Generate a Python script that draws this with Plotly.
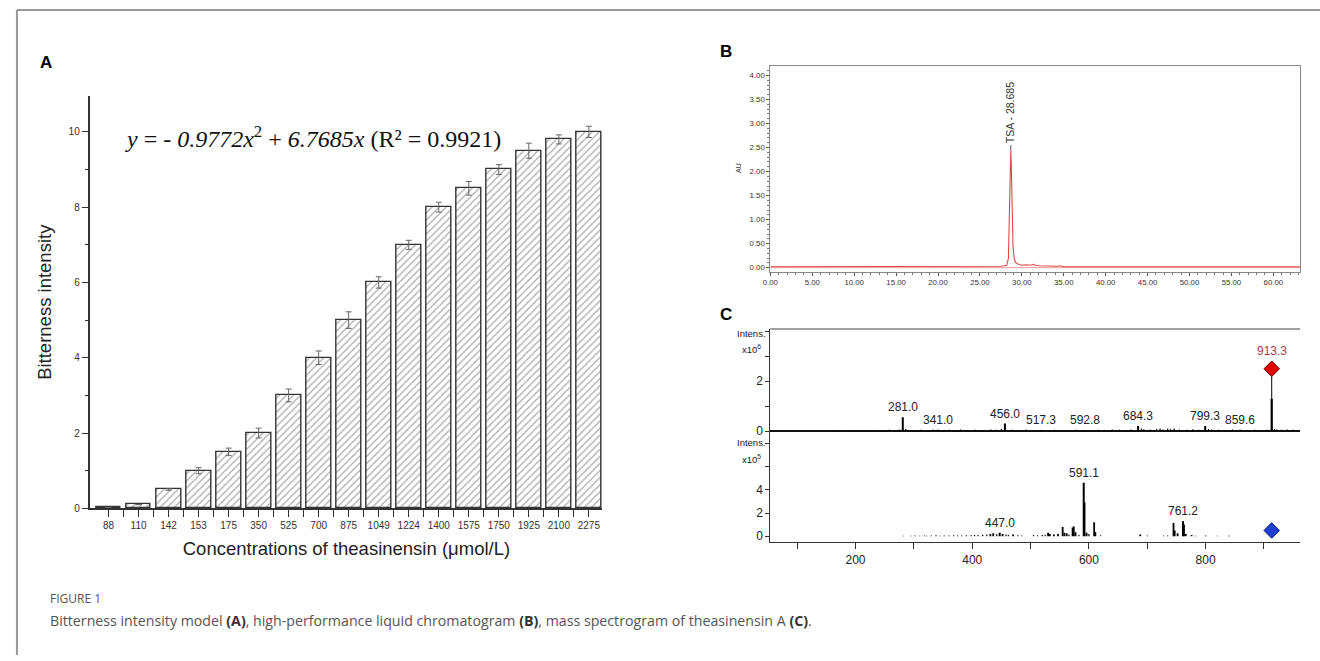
import plotly.graph_objects as go

W, H = 1320, 661


def px(x):
    return x / W


def py(y):
    return 1 - y / H


# ---------------- Panel A data ----------------
concentrations = ["88", "110", "142", "153", "175", "350", "525", "700", "875", "1049",
                  "1224", "1400", "1575", "1750", "1925", "2100", "2275"]
bitterness = [0.02, 0.1, 0.5, 1.0, 1.5, 2.0, 3.0, 4.0, 5.0, 6.0, 7.0, 8.0, 8.5, 9.0, 9.5, 9.8, 10.0]
bitterness_err = [0.0, 0.0, 0.02, 0.08, 0.1, 0.13, 0.17, 0.18, 0.22, 0.15, 0.12, 0.13, 0.18, 0.13, 0.2, 0.12, 0.15]

# ---------------- Panel B data (HPLC) ----------------
hplc_time = [0, 3, 3.5, 4, 10, 20, 24, 24.5, 25, 27, 27.5, 27.9, 28.2, 28.4, 28.5, 28.6, 28.685,
             28.75, 28.85, 28.95, 29.1, 29.3, 29.6, 30.0, 30.5, 31.0, 31.4, 31.6, 32.0, 33.0,
             34.3, 34.6, 35.0, 40, 50, 55, 63.5]
hplc_au = [0.02, 0.02, 0.025, 0.02, 0.02, 0.02, 0.02, 0.03, 0.02, 0.02, 0.03, 0.04, 0.05, 0.2,
           0.9, 2.0, 2.45, 2.1, 1.1, 0.45, 0.18, 0.1, 0.07, 0.05, 0.06, 0.05, 0.07, 0.05, 0.04,
           0.03, 0.03, 0.04, 0.02, 0.02, 0.02, 0.02, 0.02]
hplc_base_time = [0, 63.5]
hplc_base_au = [0.0, 0.0]
peak_name = "TSA - 28.685"
peak_time = 28.685
peak_au = 2.45

# ---------------- Panel C data (MS) ----------------
ms1_label_mz = [281.0, 341.0, 456.0, 517.3, 592.8, 684.3, 799.3, 859.6]
ms1_label_int = [0.55, 0.05, 0.3, 0.04, 0.04, 0.2, 0.2, 0.05]
ms1_noise_mz = [162, 190, 212, 228, 236, 249, 258, 266, 275, 286, 300, 312, 325, 333, 352, 361,
                372, 380, 392, 405, 418, 432, 441, 450, 468, 480, 492, 505, 530, 541, 553, 566,
                578, 603, 615, 627, 640, 652, 665, 672, 690, 694, 705, 716, 722, 727, 735, 740,
                746, 755, 768, 778, 788, 805, 810, 822, 834, 846, 871, 884, 896, 905, 918, 922,
                930, 940, 950]
ms1_noise_int = [0.02, 0.03, 0.02, 0.03, 0.04, 0.03, 0.05, 0.03, 0.06, 0.08, 0.04, 0.05, 0.03,
                 0.06, 0.04, 0.05, 0.03, 0.06, 0.04, 0.05, 0.04, 0.06, 0.05, 0.08, 0.05, 0.04,
                 0.06, 0.03, 0.04, 0.05, 0.04, 0.03, 0.05, 0.04, 0.05, 0.04, 0.06, 0.05, 0.04,
                 0.06, 0.1, 0.07, 0.06, 0.08, 0.1, 0.06, 0.09, 0.07, 0.1, 0.06, 0.05, 0.07, 0.05,
                 0.08, 0.06, 0.05, 0.04, 0.06, 0.04, 0.05, 0.04, 0.05, 0.08, 0.06, 0.05, 0.06, 0.05]
ms1_precursor_mz = 913.3
ms1_precursor_int = 1.3
ms1_precursor_marker = 2.5

ms2_label_mz = [447.0, 591.1, 761.2]
ms2_label_int = [0.3, 4.6, 1.3]
ms2_peak_mz = [431, 436, 452, 470, 530, 533, 540, 547, 555, 558, 562, 572, 574, 577, 592.5,
               596, 609, 611, 688, 745, 747, 752, 763, 766, 776, 800, 840]
ms2_peak_int = [0.2, 0.25, 0.2, 0.15, 0.3, 0.2, 0.15, 0.2, 0.8, 0.3, 0.25, 0.75, 0.85, 0.35, 2.9,
                0.3, 1.2, 0.35, 0.15, 1.15, 0.5, 0.25, 1.0, 0.2, 0.1, 0.05, 0.05]
ms2_noise_mz = [282, 295, 302, 310, 318, 322, 330, 338, 345, 352, 360, 368, 375, 382, 390,
                398, 404, 410, 418, 425, 442, 458, 462, 478, 485, 505, 512, 520, 525, 566,
                583, 600, 620, 700, 728, 735, 782, 820]
ms2_noise_int = [0.05, 0.04, 0.06, 0.05, 0.07, 0.05, 0.06, 0.08, 0.05, 0.07, 0.06, 0.08, 0.07,
                 0.06, 0.08, 0.09, 0.1, 0.1, 0.12, 0.14, 0.18, 0.15, 0.1, 0.08, 0.06, 0.1, 0.08,
                 0.1, 0.12, 0.15, 0.1, 0.2, 0.08, 0.06, 0.05, 0.06, 0.05, 0.05]
ms2_precursor_marker = 0.5


def sticks(mz, inten):
    xs, ys = [], []
    for m, h in zip(mz, inten):
        xs += [m, m, None]
        ys += [0, h, None]
    return xs, ys


fig = go.Figure()

# ---- Panel A: bars ----
xpos = list(range(len(concentrations)))
fig.add_trace(go.Bar(
    x=xpos, y=bitterness, width=0.83,
    marker=dict(color="white", line=dict(color="#333", width=1.4),
                pattern=dict(shape="/", fgcolor="#555", bgcolor="white", size=5, solidity=0.25)),
    error_y=dict(type="data", array=bitterness_err, visible=True, color="#666", thickness=1, width=3),
    xaxis="x", yaxis="y", showlegend=False))

# ---- Panel B: chromatogram ----
fig.add_trace(go.Scatter(x=hplc_base_time, y=hplc_base_au, mode="lines",
                         line=dict(color="#f08080", width=0.8), xaxis="x2", yaxis="y2", showlegend=False))
fig.add_trace(go.Scatter(x=hplc_time, y=hplc_au, mode="lines",
                         line=dict(color="#e04848", width=1.1), xaxis="x2", yaxis="y2", showlegend=False))
fig.add_trace(go.Scatter(x=[peak_time, peak_time], y=[peak_au, peak_au + 0.1], mode="lines",
                         line=dict(color="#555", width=1), xaxis="x2", yaxis="y2", showlegend=False))

# ---- Panel C top: MS ----
xs, ys = sticks(ms1_noise_mz, ms1_noise_int)
fig.add_trace(go.Scatter(x=xs, y=ys, mode="lines", line=dict(color="black", width=1.2),
                         xaxis="x3", yaxis="y3", showlegend=False))
xs, ys = sticks(ms1_label_mz, ms1_label_int)
fig.add_trace(go.Scatter(x=xs, y=ys, mode="lines", line=dict(color="black", width=2),
                         xaxis="x3", yaxis="y3", showlegend=False))
xs, ys = sticks([ms1_precursor_mz], [ms1_precursor_marker])
fig.add_trace(go.Scatter(x=xs, y=ys, mode="lines", line=dict(color="black", width=1),
                         xaxis="x3", yaxis="y3", showlegend=False))
xs, ys = sticks([ms1_precursor_mz], [ms1_precursor_int])
fig.add_trace(go.Scatter(x=xs, y=ys, mode="lines", line=dict(color="black", width=2.2),
                         xaxis="x3", yaxis="y3", showlegend=False))
fig.add_trace(go.Scatter(x=[ms1_precursor_mz], y=[ms1_precursor_marker], mode="markers",
                         marker=dict(symbol="diamond", size=12, color="#e00000", line=dict(color="#600", width=1)),
                         xaxis="x3", yaxis="y3", showlegend=False))

# ---- Panel C bottom: MS/MS ----
xs, ys = sticks(ms2_noise_mz, ms2_noise_int)
fig.add_trace(go.Scatter(x=xs, y=ys, mode="lines", line=dict(color="black", width=1.2),
                         xaxis="x4", yaxis="y4", showlegend=False))
xs, ys = sticks(ms2_peak_mz, ms2_peak_int)
fig.add_trace(go.Scatter(x=xs, y=ys, mode="lines", line=dict(color="black", width=1.8),
                         xaxis="x4", yaxis="y4", showlegend=False))
xs, ys = sticks(ms2_label_mz, ms2_label_int)
fig.add_trace(go.Scatter(x=xs, y=ys, mode="lines", line=dict(color="black", width=2),
                         xaxis="x4", yaxis="y4", showlegend=False))
fig.add_trace(go.Scatter(x=[ms1_precursor_mz], y=[ms2_precursor_marker], mode="markers",
                         marker=dict(symbol="diamond", size=12, color="#1f3fd0", line=dict(color="#102080", width=1)),
                         xaxis="x4", yaxis="y4", showlegend=False))

annotations = []
# panel letters
for letter, x, y in [("A", 38, 63), ("B", 722, 52), ("C", 722, 317)]:
    annotations.append(dict(text="<b>%s</b>" % letter, x=px(x), y=py(y), xref="paper", yref="paper",
                            xanchor="center", yanchor="middle", showarrow=False,
                            font=dict(family="Liberation Sans, Arial", size=17, color="black")))

# equation
annotations.append(dict(
    text="<i>y</i> = - <i>0.9772x</i><sup>2</sup> + <i>6.7685x</i> (R² = 0.9921)",
    x=px(116), y=py(138), xref="paper", yref="paper", xanchor="left", yanchor="middle",
    showarrow=False, font=dict(family="Liberation Serif, Times New Roman", size=24, color="#111")))

# HPLC peak label
annotations.append(dict(text=peak_name, x=peak_time, y=peak_au, xref="x2", yref="y2",
                        xanchor="center", yanchor="bottom", yshift=5, textangle=-90, showarrow=False,
                        font=dict(family="Liberation Sans, Arial", size=10.5, color="#333")))
annotations.append(dict(text="AU", x=px(735), y=py(170), xref="paper", yref="paper",
                        xanchor="center", yanchor="middle", textangle=-90, showarrow=False,
                        font=dict(family="Liberation Sans, Arial", size=7, color="#333")))

lab_font = "Liberation Sans, Arial"
for m, h in zip(ms1_label_mz, ms1_label_int):
    annotations.append(dict(text="%.1f" % m, x=m, y=h, xref="x3", yref="y3", xanchor="center",
                            yanchor="bottom", yshift=1, showarrow=False,
                            font=dict(family=lab_font, size=12, color="#222")))
annotations.append(dict(text="%.1f" % ms1_precursor_mz, x=ms1_precursor_mz, y=ms1_precursor_marker,
                        xref="x3", yref="y3", xanchor="center", yanchor="bottom", yshift=9,
                        showarrow=False, font=dict(family=lab_font, size=12, color="#b0403a")))
for m, h in zip(ms2_label_mz, ms2_label_int):
    annotations.append(dict(text="%.1f" % m, x=m, y=h, xref="x4", yref="y4", xanchor="center",
                            yanchor="bottom", yshift=1, showarrow=False,
                            font=dict(family=lab_font, size=12, color="#222")))
for txt, x, y in [("Intens.", 748, 337), ("x10<sup>6</sup>", 748, 352),
                  ("Intens.", 748, 447), ("x10<sup>5</sup>", 748, 463)]:
    annotations.append(dict(text=txt, x=px(x), y=py(y), xref="paper", yref="paper",
                            xanchor="center", yanchor="middle", showarrow=False,
                            font=dict(family=lab_font, size=9.5, color="#222")))

# caption
annotations.append(dict(text="FIGURE 1", x=px(40), y=py(604), xref="paper", yref="paper",
                        xanchor="left", yanchor="middle", showarrow=False,
                        font=dict(family="Open Sans", size=12, color="#555")))
annotations.append(dict(
    text="Bitterness intensity model <b style='color:#333'>(A)</b>, high-performance liquid chromatogram "
         "<b style='color:#333'>(B)</b>, mass spectrogram of theasinensin A <b style='color:#333'>(C)</b>.",
    x=px(40), y=py(626), xref="paper", yref="paper", xanchor="left", yanchor="middle",
    showarrow=False, font=dict(family="Open Sans", size=14.2, color="#555")))

shapes = [
    dict(type="line", xref="paper", yref="paper", x0=px(9), x1=1.0, y0=py(10), y1=py(10),
         line=dict(color="#999", width=2)),
    dict(type="line", xref="paper", yref="paper", x0=px(9), x1=px(9), y0=py(10), y1=0,
         line=dict(color="#999", width=2)),
    dict(type="line", xref="paper", yref="paper", x0=px(767), x1=px(1300), y0=py(332), y1=py(332),
         line=dict(color="#444", width=1.2)),
]

ax_font = dict(family="Liberation Sans, Arial", size=10, color="#333")
c_font = dict(family=lab_font, size=12, color="#222")

fig.update_layout(
    width=W, height=H, margin=dict(l=0, r=0, t=0, b=0),
    paper_bgcolor="white", plot_bgcolor="rgba(0,0,0,0)",
    annotations=annotations, shapes=shapes, bargap=0,
    xaxis=dict(domain=[px(83), px(598)], anchor="y", range=[-0.6, 16.45],
               tickvals=xpos, ticktext=concentrations, ticks="outside", ticklen=7, tickcolor="#333",
               minor=dict(tickvals=[i + 0.5 for i in xpos[:-1]], ticks="outside", ticklen=7, tickcolor="#333"),
               showline=True, linecolor="#333", linewidth=1.5, showgrid=False, zeroline=False,
               tickfont=ax_font,
               title=dict(text="Concentrations of theasinensin (μmol/L)", standoff=12,
                          font=dict(family="Liberation Sans, Arial", size=18.5, color="#222"))),
    yaxis=dict(domain=[py(513), py(97)], anchor="x", range=[0, 10.95],
               tickvals=[0, 2, 4, 6, 8, 10], ticks="outside", ticklen=7, tickcolor="#333",
               minor=dict(tickvals=[1, 3, 5, 7, 9], ticks="outside", ticklen=4, tickcolor="#333"),
               showline=True, linecolor="#333", linewidth=1.5, showgrid=False, zeroline=False,
               tickfont=ax_font,
               title=dict(text="Bitterness intensity", standoff=12,
                          font=dict(family="Liberation Sans, Arial", size=18.5, color="#222"))),
    xaxis2=dict(domain=[px(767), px(1300)], anchor="y2", range=[0, 63.2],
                dtick=5, tick0=0, tickformat=".2f", ticks="outside", ticklen=3, tickcolor="#555",
                minor=dict(dtick=1, ticks="outside", ticklen=2, tickcolor="#777"),
                showline=True, mirror=True, linecolor="#888", linewidth=1, showgrid=False,
                zeroline=False, tickfont=dict(family="Liberation Sans, Arial", size=7.8, color="#333")),
    yaxis2=dict(domain=[py(274), py(67)], anchor="x2", range=[-0.08, 4.19],
                dtick=0.5, tick0=0, tickformat=".2f", ticks="outside", ticklen=3, tickcolor="#555",
                minor=dict(dtick=0.1, ticks="outside", ticklen=2, tickcolor="#777"),
                showline=True, mirror=True, linecolor="#888", linewidth=1, showgrid=False,
                zeroline=False, tickfont=dict(family="Liberation Sans, Arial", size=7.8, color="#333")),
    xaxis3=dict(domain=[px(767), px(1300)], anchor="y3", range=[54, 962], matches="x4",
                showticklabels=False, ticks="", showline=False, showgrid=False, zeroline=False),
    yaxis3=dict(domain=[py(438), py(332)], anchor="x3", range=[-0.12, 4.1],
                tickvals=[0, 2], ticks="outside", ticklen=4, tickcolor="#333",
                minor=dict(tickvals=[1, 3, 4], ticks="outside", ticklen=4, tickcolor="#333"),
                showline=True, linecolor="#333", linewidth=1.2,
                showgrid=False, zeroline=True, zerolinecolor="#111", zerolinewidth=2, tickfont=c_font),
    xaxis4=dict(domain=[px(767), px(1300)], anchor="y4", range=[54, 962],
                tickvals=[200, 400, 600, 800], ticks="outside", ticklen=6, tickcolor="#333",
                minor=dict(tickvals=[100, 300, 500, 700, 900], ticks="outside", ticklen=6, tickcolor="#333"),
                showline=True, linecolor="#333", linewidth=1.2, showgrid=False, zeroline=False,
                tickfont=c_font),
    yaxis4=dict(domain=[py(547), py(438)], anchor="x4", range=[-0.5, 8.8],
                tickvals=[0, 2, 4], ticks="outside", ticklen=4, tickcolor="#333",
                minor=dict(tickvals=[6, 8], ticks="outside", ticklen=4, tickcolor="#333"),
                showline=True, linecolor="#333", linewidth=1.2,
                showgrid=False, zeroline=False, tickfont=c_font),
)

fig.write_html("out.html", config={"displayModeBar": False},
               post_script="document.body.style.margin='0';document.body.style.overflow='hidden';")
